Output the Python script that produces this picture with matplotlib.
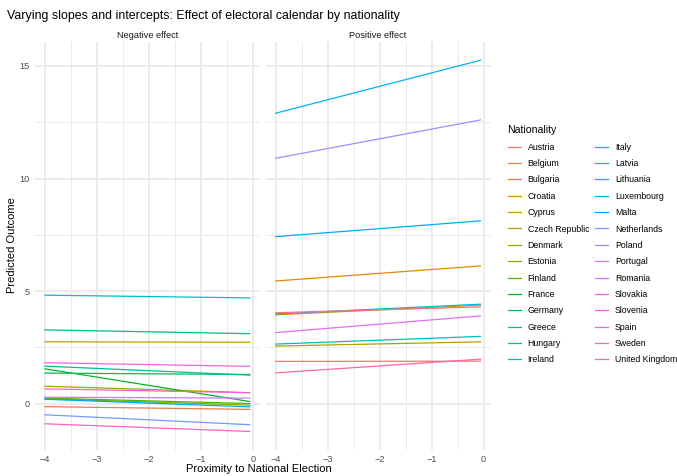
import numpy as np
import matplotlib
matplotlib.use("Agg")
import matplotlib.pyplot as plt
from matplotlib.lines import Line2D

plt.rcParams['font.family'] = ['Liberation Sans', 'DejaVu Sans']

countries = ['Austria', 'Belgium', 'Bulgaria', 'Croatia', 'Cyprus', 'Czech Republic',
             'Denmark', 'Estonia', 'Finland', 'France', 'Germany', 'Greece', 'Hungary',
             'Ireland', 'Italy', 'Latvia', 'Lithuania', 'Luxembourg', 'Malta',
             'Netherlands', 'Poland', 'Portugal', 'Romania', 'Slovakia', 'Slovenia',
             'Spain', 'Sweden', 'United Kingdom']
effect = ['Positive', 'Negative', 'Positive', 'Positive', 'Negative', 'Positive',
          'Negative', 'Negative', 'Negative', 'Negative', 'Negative', 'Negative', 'Negative',
          'Positive', 'Negative', 'Positive', 'Positive', 'Positive', 'Negative',
          'Negative', 'Positive', 'Negative', 'Positive', 'Negative', 'Negative',
          'Negative', 'Positive', 'Positive']
# predicted outcome at the two ends of the proximity range
pred_start = [1.88, -0.13, 5.45, 3.95, 2.75, 2.56,
              0.78, 0.22, 0.25, 1.55, 1.36, 3.28, 1.67,
              2.65, 4.82, 3.99, 12.9, 7.42, 0.20,
              -0.49, 10.9, 0.29, 3.16, 1.82, 0.66,
              -0.89, 1.37, 4.04]
pred_end = [1.89, -0.25, 6.12, 4.38, 2.73, 2.75,
            0.49, -0.06, 0.01, 0.10, 1.30, 3.11, 1.27,
            2.99, 4.70, 4.42, 15.25, 8.12, -0.14,
            -0.93, 12.6, 0.25, 3.90, 1.66, 0.49,
            -1.23, 1.98, 4.30]
proximity = [-4, -0.06]
panels = ['Negative', 'Positive']


def hue_pal(n, h0=15, c=100, l=65):
    # same spacing as ggplot's default discrete hue scale
    hues = np.linspace(h0, h0 + 360, n + 1)[:n]
    xn, yn, zn = 95.047, 100.0, 108.883
    un = 4 * xn / (xn + 15 * yn + 3 * zn)
    vn = 9 * yn / (xn + 15 * yn + 3 * zn)
    m = np.array([[3.240479, -1.537150, -0.498535],
                  [-0.969256, 1.875992, 0.041556],
                  [0.055648, -0.204043, 1.057311]])
    out = []
    for h in hues:
        u = c * np.cos(np.radians(h))
        v = c * np.sin(np.radians(h))
        Y = yn * ((l + 16) / 116) ** 3
        up = u / (13 * l) + un
        vp = v / (13 * l) + vn
        X = 9.0 * Y * up / (4 * vp)
        Z = -X / 3 - 5 * Y + 3 * Y / vp
        rgb = m @ (np.array([X, Y, Z]) / 100)
        rgb = np.where(rgb > 0.0031308, 1.055 * np.abs(rgb) ** (1 / 2.4) - 0.055, 12.92 * rgb)
        out.append(tuple(np.clip(rgb, 0, 1)))
    return out


colors = hue_pal(len(countries))

fig = plt.figure(figsize=(6.77, 4.76), dpi=100)
ax1 = fig.add_axes([0.0514, 0.0546, 0.3326, 0.8578])
ax2 = fig.add_axes([0.3922, 0.0546, 0.3326, 0.8578], sharey=ax1)
axes = {'Negative': ax1, 'Positive': ax2}

for name, eff, y0, y1, col in zip(countries, effect, pred_start, pred_end, colors):
    axes[eff].plot(proximity, [y0, y1], color=col, linewidth=0.9)

for eff, ax in axes.items():
    ax.set_facecolor('white')
    for s in ax.spines.values():
        s.set_visible(False)
    ax.set_xticks([-4, -3, -2, -1, 0])
    ax.set_xticks([-3.5, -2.5, -1.5, -0.5], minor=True)
    ax.set_yticks([0, 5, 10, 15])
    ax.set_yticks([2.5, 7.5, 12.5], minor=True)
    ax.grid(which='major', color='#EBEBEB', linewidth=1.4)
    ax.grid(which='minor', color='#EBEBEB', linewidth=0.7)
    ax.set_axisbelow(True)
    ax.tick_params(which='both', length=0, labelsize=6.6, labelcolor='#4D4D4D', pad=3.5)
    ax.set_title(eff + ' effect', fontsize=6.6, color='#1A1A1A', pad=3)

ax2.tick_params(axis='y', labelleft=False)

fig.text(0.011, 0.966, 'Varying slopes and intercepts: Effect of electoral calendar by nationality',
         fontsize=8.9, ha='left', va='center')
fig.text(0.383, 0.015, 'Proximity to National Election', fontsize=8, ha='center', va='center')
fig.text(0.018, 0.485, 'Predicted Outcome', fontsize=8, ha='center', va='center', rotation=90)

handles = [Line2D([], [], color=col, linewidth=0.9) for col in colors]
leg = fig.legend(handles, countries, loc='upper left', bbox_to_anchor=(0.738, 0.753),
                 ncol=2, frameon=False, title='Nationality', fontsize=6.3,
                 title_fontsize=7.6, handlelength=1.5, handletextpad=0.8,
                 labelspacing=0.84, columnspacing=0.67, alignment='left')

fig.savefig('out.png', dpi=100, facecolor='white')
